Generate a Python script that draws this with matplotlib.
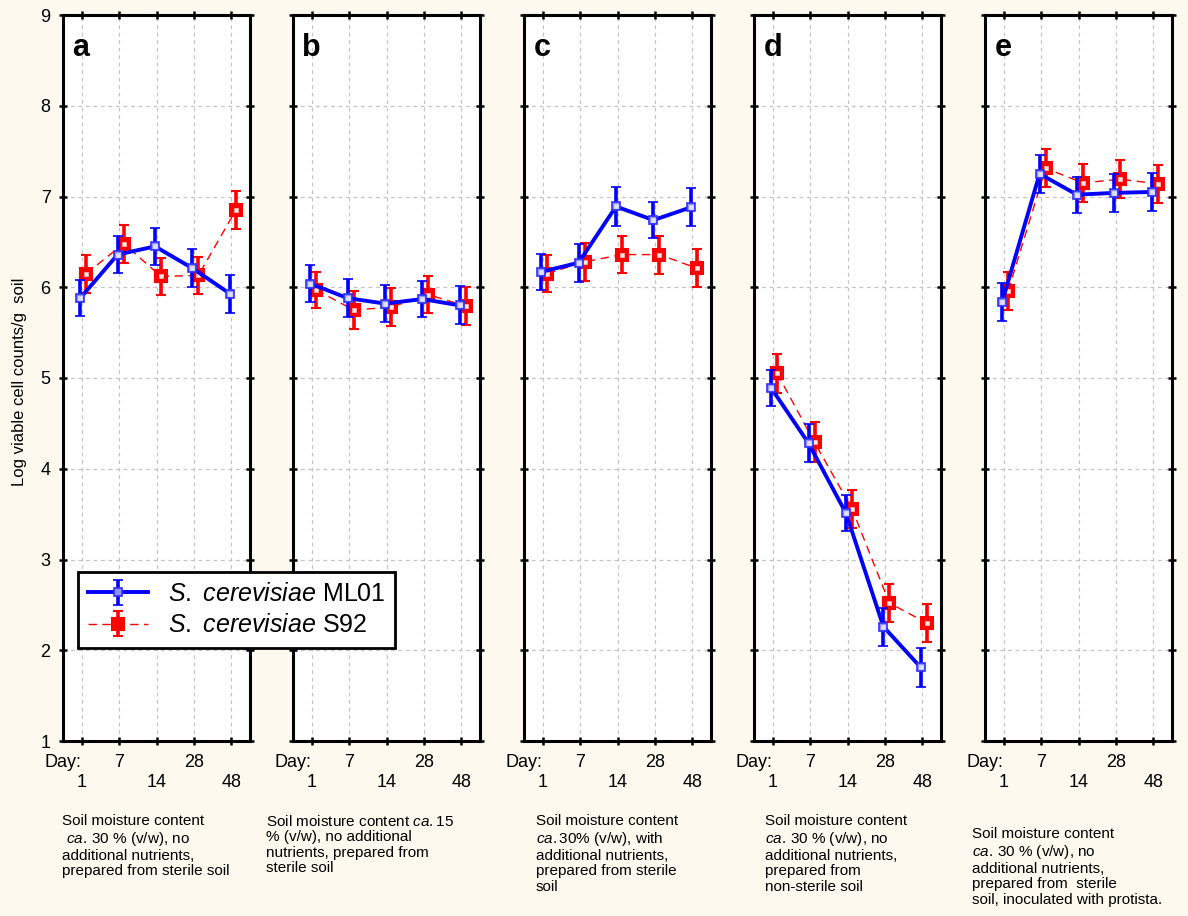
import matplotlib
matplotlib.use("Agg")
import matplotlib.pyplot as plt
import numpy as np

plt.rcParams['font.family'] = ['Liberation Sans', 'DejaVu Sans']
plt.rcParams['mathtext.fontset'] = 'custom'
plt.rcParams['mathtext.rm'] = 'Liberation Sans'
plt.rcParams['mathtext.it'] = 'Liberation Sans:italic'
plt.rcParams['mathtext.bf'] = 'Liberation Sans:bold'

days = ['1', '7', '14', '28', '48']
panels = ['a', 'b', 'c', 'd', 'e']

ml01_mean = [
    [5.88, 6.36, 6.45, 6.21, 5.93],
    [6.04, 5.88, 5.82, 5.87, 5.80],
    [6.17, 6.27, 6.89, 6.74, 6.88],
    [4.89, 4.28, 3.51, 2.26, 1.81],
    [5.84, 7.25, 7.02, 7.04, 7.05],
]
ml01_err = [
    [0.20, 0.20, 0.20, 0.21, 0.21],
    [0.20, 0.21, 0.20, 0.20, 0.21],
    [0.20, 0.21, 0.21, 0.20, 0.21],
    [0.20, 0.21, 0.20, 0.21, 0.21],
    [0.21, 0.21, 0.20, 0.21, 0.21],
]
s92_mean = [
    [6.15, 6.48, 6.12, 6.13, 6.85],
    [5.97, 5.75, 5.78, 5.92, 5.79],
    [6.15, 6.28, 6.36, 6.36, 6.21],
    [5.05, 4.29, 3.56, 2.52, 2.30],
    [5.96, 7.31, 7.15, 7.19, 7.14],
]
s92_err = [
    [0.21, 0.21, 0.20, 0.20, 0.21],
    [0.20, 0.21, 0.21, 0.20, 0.21],
    [0.20, 0.21, 0.20, 0.21, 0.21],
    [0.21, 0.22, 0.21, 0.21, 0.21],
    [0.21, 0.21, 0.21, 0.21, 0.21],
]

captions = [
    "Soil moisture content\n $\\mathit{ca.}\\,$30 % (v/w), no\nadditional nutrients,\nprepared from sterile soil",
    "Soil moisture content $\\mathit{ca.}$15\n% (v/w), no additional\nnutrients, prepared from\nsterile soil",
    "Soil moisture content\n$\\mathit{ca.}$30% (v/w), with\nadditional nutrients,\nprepared from sterile\nsoil",
    "Soil moisture content\n$\\mathit{ca.}\\,$30 % (v/w), no\nadditional nutrients,\nprepared from\nnon-sterile soil",
    "Soil moisture content\n$\\mathit{ca.}\\,$30 % (v/w), no\nadditional nutrients,\nprepared from  sterile\nsoil, inoculated with protista.",
]
caption_x = [62, 266, 536, 765, 972]
caption_y = [814, 814, 814, 814, 827]

label_ml01 = r"$\mathit{S.\ cerevisiae}$ ML01"
label_s92 = r"$\mathit{S.\ cerevisiae}$ S92"

W, H = 1188, 916
bg = '#fdf9ee'
fig = plt.figure(figsize=(W / 100, H / 100), dpi=100, facecolor=bg)

lefts = [63, 293, 524, 754, 985]
ax_w = 187
ax_top, ax_bot = 15, 741

blue = '#0000ff'
red = '#ff0000'
x = np.arange(5)
handles = None
for i in range(5):
    ax = fig.add_axes([lefts[i] / W, 1 - ax_bot / H, ax_w / W, (ax_bot - ax_top) / H])
    ax.set_facecolor('white')
    ax.set_xlim(-0.5, 4.5)
    ax.set_ylim(1, 9)
    ax.set_yticks(range(1, 10))
    ax.set_xticks(x)
    ax.grid(True, color='#c4c4c4', linestyle=(0, (3, 3)), linewidth=0.9)
    ax.set_axisbelow(True)
    for s in ax.spines.values():
        s.set_linewidth(2.2)
        s.set_color('black')
    ax.tick_params(direction='inout', length=6, width=1.8, top=True, right=True,
                   labelsize=13, pad=6)
    ax.set_xticklabels([])
    if i > 0:
        ax.set_yticklabels([])

    xr = x + 0.12
    xb = x - 0.04
    h2 = ax.errorbar(xr, s92_mean[i], yerr=s92_err[i], color=red,
                     linestyle=(0, (6, 4)), linewidth=1.0, marker='s', markersize=8.5,
                     markerfacecolor=red, markeredgecolor=red, markeredgewidth=1.5,
                     elinewidth=2.6, capsize=3.5, capthick=2.6, ecolor=red, zorder=3)
    ax.plot(xr, s92_mean[i], linestyle='none', marker='s', markersize=3,
            markerfacecolor='#ffe8e8', markeredgecolor='#ffb0b0', markeredgewidth=0.6,
            zorder=3.5)
    h1 = ax.errorbar(xb, ml01_mean[i], yerr=ml01_err[i], color=blue,
                     linestyle='-', linewidth=2.8, marker='s', markersize=6,
                     markerfacecolor='#9090ff', markeredgecolor='#3030ff', markeredgewidth=1.2,
                     elinewidth=2.6, capsize=3.5, capthick=2.6, ecolor=blue, zorder=4)
    ax.plot(xb, ml01_mean[i], linestyle='none', marker='s', markersize=2.5,
            markerfacecolor='#e0e0ff', markeredgecolor='#e0e0ff', markeredgewidth=0.5,
            zorder=4.5)
    if handles is None:
        handles = [h1, h2]

    ax.text(0.05, 0.955, panels[i], transform=ax.transAxes, fontsize=22,
            fontweight='bold', ha='left', va='center')

    trans = ax.get_xaxis_transform()
    ax.text(-0.5, -0.029, 'Day:', transform=trans, ha='center', va='center', fontsize=13)
    for k, d in enumerate(days):
        yy = -0.029 if k % 2 == 1 else -0.057
        ax.text(k, yy, d, transform=trans, ha='center', va='center', fontsize=13)

    fig.text(caption_x[i] / W, 1 - caption_y[i] / H, captions[i], ha='left', va='top',
             fontsize=11, linespacing=1.12)

fig.text(20 / W, 1 - 382 / H, 'Log viable cell counts/g  soil', rotation=90,
         ha='center', va='center', fontsize=12)

leg = fig.legend(handles, [label_ml01, label_s92], loc='upper left',
                 bbox_to_anchor=(78 / W, 1 - 572 / H), borderaxespad=0,
                 fontsize=18, frameon=True, fancybox=False, edgecolor='black',
                 framealpha=1, handlelength=2.4, borderpad=0.4, labelspacing=0.3,
                 handletextpad=0.8)
leg.get_frame().set_linewidth(2)

fig.savefig('out.png', dpi=100, facecolor=bg)
